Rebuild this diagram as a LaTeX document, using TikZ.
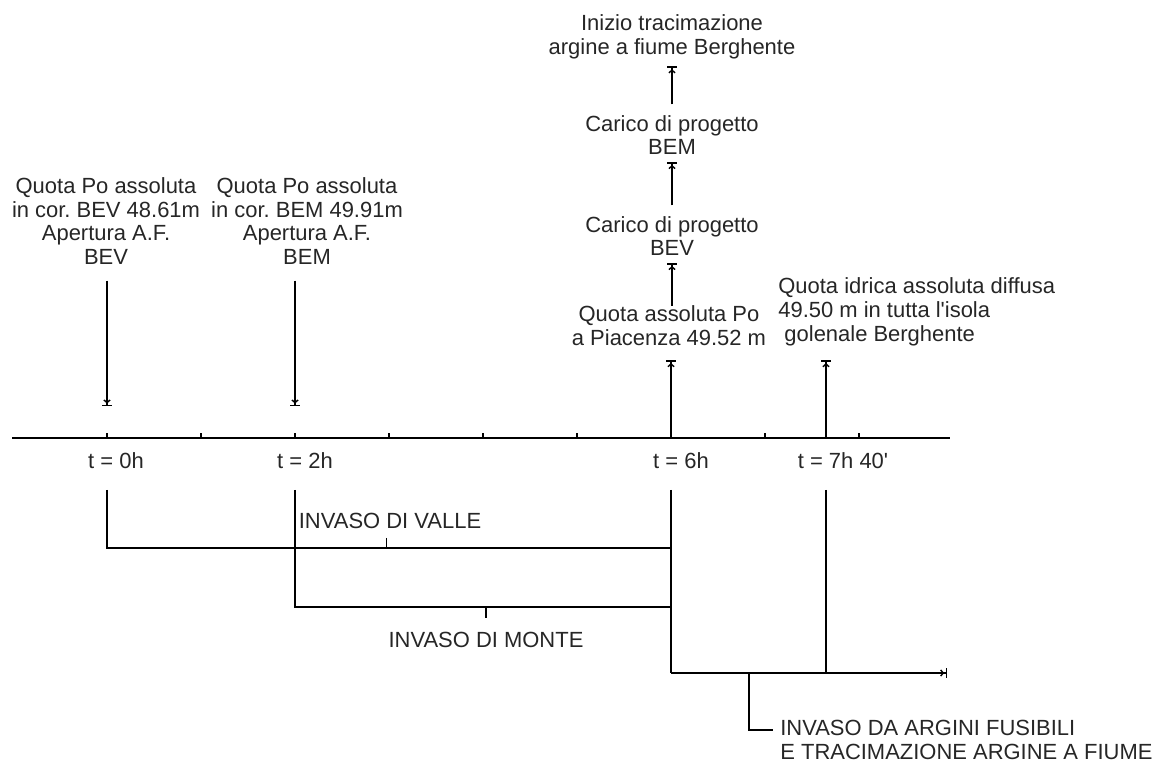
\documentclass[tikz,border=0pt]{standalone}
\usepackage{fontspec}
\setmainfont{Liberation Sans}
\usetikzlibrary{arrows.meta,positioning}

\begin{document}
\begin{tikzpicture}[x=0.02cm, y=-0.02cm,
  lbl/.style={inner sep=0pt, align=center, font=\fontsize{12.5}{13.5}\selectfont, text=black!85},
  link/.style={line width=0.8pt},
  arrow/.style={line width=0.8pt, -{Straight Barb[length=1.5pt,width=3.5pt,sep=0.8pt]Bar[width=5.5pt]}}
]
\useasboundingbox (0,0) rectangle (1157,763);

\coordinate (t0) at (107,438);
\coordinate (t2) at (295,438);
\coordinate (t6) at (671,438);
\coordinate (t7) at (826,438);
\draw[link] (12,438) -- (950,438);
\foreach \i in {0,...,8}
  \draw[link] ({107+94*\i},438) -- ++(0,-5);

\node[lbl] (l0) at (116,461) {t = 0h};
\node[lbl] (l2) at (305,461) {t = 2h};
\node[lbl] (l6) at (681,461) {t = 6h};
\node[lbl] (l7) at (843,461) {t = 7h 40\textquotesingle};

\node[lbl] (qbev) at (106,221) {Quota Po assoluta\\in cor.\ BEV 48.61m\\Apertura A.F.\\BEV};
\node[lbl] (qbem) at (307,221) {Quota Po assoluta\\in cor.\ BEM 49.91m\\Apertura A.F.\\BEM};
\draw[arrow, shorten <=9pt, shorten >=18pt] (qbev.south -| t0) -- (t0);
\draw[arrow, shorten <=9pt, shorten >=18pt] (qbem.south -| t2) -- (t2);

\node[lbl] (trac) at (672,37) {Inizio tracimazione\\argine a fiume Berghente};
\node[lbl] (cbem) at (672,135) {Carico di progetto\\BEM};
\node[lbl] (cbev) at (672,236) {Carico di progetto\\BEV};
\node[lbl] (qpia) at (669,326) {Quota assoluta Po\\a Piacenza 49.52 m};
\node[lbl, anchor=west, align=left] (qidr) at (778,312) {Quota idrica assoluta diffusa\\49.50 m in tutta l\textquotesingle isola\\\ golenale Berghente};
\draw[arrow, shorten >=4pt] (qpia.north -| cbev) -- (cbev.south);
\draw[arrow, shorten >=4pt, shorten <=6pt] (cbev.north) -- (cbem.south);
\draw[arrow, shorten >=4pt, shorten <=6pt] (cbem.north) -- (trac.south);
\draw[arrow, shorten >=8pt] (t6) -- (qpia.south -| t6);
\draw[arrow, shorten >=8pt] (t7) -- (qidr.south -| t7);

\coordinate (v0) at (107,490);
\coordinate (v2) at (295,490);
\coordinate (v6) at (671,490);
\coordinate (v7) at (826,490);
\coordinate (hv) at (671,548);
\coordinate (hm) at (671,607);
\coordinate (hf) at (671,673);
\coordinate (fb) at (749,673);
\coordinate (fk) at (773,730);
\coordinate (vend) at (947,673);
\draw[link] (v0) |- (hv);
\draw[link] (v2) |- (hm);
\draw[link] (v6) -- (hf);
\draw[link] (v7) -- (v7 |- hf);
\draw[arrow] (hf) -- (vend);

\node[lbl] (valle) at (390,521) {INVASO DI VALLE};
\node[lbl] (monte) at (486,640) {INVASO DI MONTE};
\node[lbl, anchor=west, align=left] (fus) at (780,740) {INVASO DA ARGINI FUSIBILI\\E TRACIMAZIONE ARGINE A FIUME};
\draw[link, shorten <=5pt] ([xshift=-2pt]valle.south) -- ([xshift=-2pt]valle.south |- hv);
\draw[link, shorten >=8pt] (monte.north |- hm) -- (monte.north);
\draw[link] (fb) |- (fk);
\end{tikzpicture}
\end{document}
